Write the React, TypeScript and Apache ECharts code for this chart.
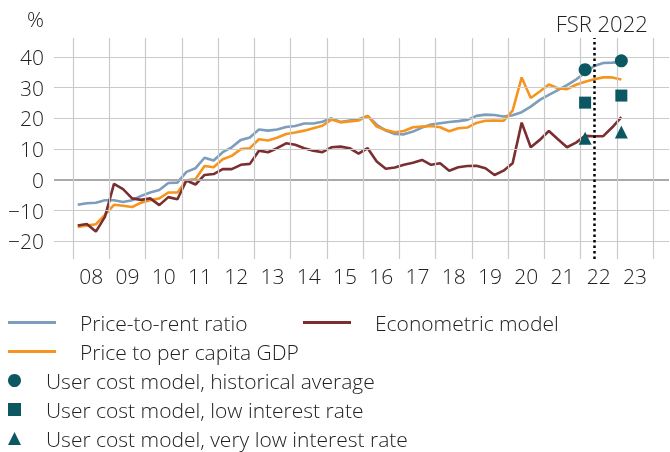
import React, { useEffect, useRef } from "react";
import * as echarts from "echarts";

// Quarterly observations 2008Q1 – 2023Q1
const quarters: string[] = [];
for (let y = 2008; y <= 2023; y++) {
  for (let q = 1; q <= 4; q++) {
    if (y === 2023 && q > 1) break;
    quarters.push(`${y}Q${q}`);
  }
}

const priceToRent = [
  -8.1, -7.6, -7.4, -6.6, -6.6, -7.2, -6.6, -5.2, -4.1, -3.3,
  -1.0, -0.9, 2.6, 3.8, 7.2, 6.3, 9.0, 10.6, 13.0, 13.8,
  16.4, 16.0, 16.4, 17.2, 17.5, 18.3, 18.3, 18.9, 20.0, 18.8,
  19.3, 19.7, 20.8, 17.9, 16.0, 14.9, 14.8, 15.7, 17.0, 18.0,
  18.4, 18.8, 19.1, 19.5, 20.8, 21.2, 21.1, 20.6, 21.0, 22.0,
  23.8, 26.0, 27.6, 29.2, 30.8, 32.6, 34.8, 37.0, 38.0, 38.1,
  38.3,
];

const priceToGdp = [
  -15.3, -14.8, -14.4, -11.4, -8.1, -8.4, -8.8, -7.4, -6.6, -6.0,
  -4.1, -4.1, -0.1, 0.3, 4.5, 4.1, 6.7, 7.8, 10.0, 10.3,
  13.2, 12.8, 13.7, 14.9, 15.4, 16.0, 16.8, 17.6, 19.6, 18.7,
  19.0, 19.3, 20.8, 17.3, 16.2, 15.5, 15.9, 17.1, 17.3, 17.5,
  17.1, 15.8, 16.8, 17.0, 18.5, 19.2, 19.3, 19.2, 22.5, 33.3,
  26.6, 28.7, 31.0, 29.8, 29.5, 30.9, 31.9, 32.7, 33.3, 33.3,
  32.6,
];

const econometric = [
  -14.8, -14.3, -16.8, -12.0, -1.3, -3.0, -6.0, -6.5, -6.0, -8.2,
  -5.6, -6.3, -0.2, -1.5, 1.6, 1.9, 3.5, 3.5, 4.9, 5.2,
  9.5, 9.0, 10.3, 11.9, 11.4, 10.3, 9.5, 9.0, 10.6, 10.8,
  10.3, 8.5, 10.3, 6.0, 3.6, 4.0, 4.9, 5.6, 6.5, 4.9,
  5.4, 3.0, 4.1, 4.5, 4.6, 3.8, 1.6, 3.0, 5.4, 18.6,
  10.6, 13.0, 15.9, 13.2, 10.6, 12.1, 14.3, 14.2, 14.2, 17.1,
  20.4,
];

const markerQuarters = ["2022Q1", "2023Q1"];
const userCostHistAvg = [35.8, 38.7];
const userCostLowRate = [25.1, 27.4];
const userCostVeryLowRate = [13.5, 15.6];

const yTicks = [-20, -10, 0, 10, 20, 30, 40];
const years = [2008, 2009, 2010, 2011, 2012, 2013, 2014, 2015, 2016, 2017, 2018, 2019, 2020, 2021, 2022, 2023];
const yearBounds = [...years, 2024];
const fsrDate = 2022.39;
const fsrLabel = "FSR 2022";

const names = {
  rent: "Price-to-rent ratio",
  econ: "Econometric model",
  gdp: "Price to per capita GDP",
  hist: "User cost model, historical average",
  low: "User cost model, low interest rate",
  vlow: "User cost model, very low interest rate",
};

const colors = {
  rent: "#7c9dbb",
  gdp: "#f7941d",
  econ: "#7a2e2f",
  marker: "#0c5862",
  grid: "#cacaca",
  zero: "#a9a9a9",
  text: "#222222",
};

const toX = (q: string) => {
  const y = Number(q.slice(0, 4));
  const n = Number(q.slice(5));
  return y + (n - 0.5) / 4;
};

const pair = (vals: number[]) => quarters.map((q, i) => [toX(q), vals[i]]);
const markerPair = (vals: number[]) => markerQuarters.map((q, i) => [toX(q), vals[i]]);

const FONT = "Open Sans";
const WEIGHT = 300;
const AXIS_FONT = 21;

export default function App() {
  const ref = useRef<HTMLDivElement>(null);

  useEffect(() => {
    if (!ref.current) return;
    const chart = echarts.init(ref.current, null, { renderer: "svg" });

    const gridLines = [
      ...yTicks.map((v) => ({
        yAxis: v,
        lineStyle: { color: v === 0 ? colors.zero : colors.grid, width: v === 0 ? 2.2 : 1.2, type: "solid" },
      })),
      ...yearBounds.map((v) => ({
        xAxis: v,
        lineStyle: { color: colors.grid, width: 1.2, type: "solid" },
      })),
    ];

    const legendText = { fontSize: 21, color: colors.text, fontFamily: FONT, fontWeight: WEIGHT };
    const lineLegend = {
      padding: 0, itemWidth: 48, itemHeight: 3, icon: "rect", selectedMode: false,
      textStyle: { ...legendText, padding: [0, 0, 0, 19] },
    };

    chart.setOption({
      animation: false,
      textStyle: { fontFamily: FONT },
      grid: { left: 54, right: 1, top: 38, height: 221, containLabel: false },
      xAxis: {
        type: "value",
        min: 2007.47,
        max: 2024.44,
        axisLine: { show: false },
        axisTick: { show: false },
        splitLine: { show: false },
        axisLabel: {
          customValues: years.map((y) => y + 0.5),
          formatter: (v: number) => String(Math.floor(v)).slice(2),
          fontSize: AXIS_FONT,
          color: colors.text,
          fontFamily: FONT,
          fontWeight: WEIGHT,
          margin: 6,
        },
      },
      yAxis: {
        type: "value",
        min: -25.7,
        max: 46.1,
        axisLine: { show: false },
        axisTick: { show: false },
        splitLine: { show: false },
        axisLabel: {
          customValues: yTicks,
          formatter: (v: number) => String(v).replace("-", "\u2212"),
          fontSize: AXIS_FONT,
          color: colors.text,
          fontFamily: FONT,
          fontWeight: WEIGHT,
          margin: 10,
        },
      },
      graphic: [
        {
          type: "text",
          right: 670 - 44,
          top: 8,
          style: { text: "%", fontSize: AXIS_FONT, fill: colors.text, fontFamily: FONT, fontWeight: WEIGHT },
        },
      ],
      legend: [
        { ...lineLegend, left: 8, top: 312, data: [names.rent] },
        { ...lineLegend, left: 303, top: 312, data: [names.econ] },
        { ...lineLegend, left: 8, top: 341, data: [names.gdp] },
        {
          left: 8, top: 370, padding: 0, orient: "vertical", itemGap: 8, itemWidth: 13, itemHeight: 13, selectedMode: false,
          data: [names.hist, names.low, names.vlow], textStyle: { ...legendText, padding: [0, 0, 0, 20] },
        },
      ],
      series: [
        {
          type: "line",
          name: "grid",
          data: [],
          z: 0,
          silent: true,
          markLine: { silent: true, symbol: "none", label: { show: false }, data: gridLines },
        },
        {
          type: "line", name: names.rent, data: pair(priceToRent), symbol: "none", z: 3,
          lineStyle: { color: colors.rent, width: 2.6 }, itemStyle: { color: colors.rent },
        },
        {
          type: "line", name: names.gdp, data: pair(priceToGdp), symbol: "none", z: 3,
          lineStyle: { color: colors.gdp, width: 2.6 }, itemStyle: { color: colors.gdp },
        },
        {
          type: "line", name: names.econ, data: pair(econometric), symbol: "none", z: 3,
          lineStyle: { color: colors.econ, width: 2.6 }, itemStyle: { color: colors.econ },
        },
        {
          type: "scatter", name: names.hist, data: markerPair(userCostHistAvg), symbol: "circle", symbolSize: 13, z: 5,
          itemStyle: { color: colors.marker, opacity: 1 },
        },
        {
          type: "scatter", name: names.low, data: markerPair(userCostLowRate), symbol: "rect", symbolSize: 12, z: 5,
          itemStyle: { color: colors.marker, opacity: 1 },
        },
        {
          type: "scatter", name: names.vlow, data: markerPair(userCostVeryLowRate), symbol: "triangle", symbolSize: 13, z: 5,
          itemStyle: { color: colors.marker, opacity: 1 },
        },
        {
          type: "line",
          name: "fsr",
          data: [],
          z: 10,
          silent: true,
          markLine: {
            silent: true,
            symbol: "none",
            data: [
              {
                xAxis: fsrDate,
                lineStyle: { color: "#000", width: 2.5, type: [2.5, 3] },
                label: {
                  show: true,
                  position: "end",
                  formatter: fsrLabel,
                  fontSize: 22,
                  color: colors.text,
                  fontFamily: FONT,
                  fontWeight: WEIGHT,
                  distance: 4,
                  offset: [7, 0],
                },
              },
            ],
          },
        },
      ],
    });

    return () => chart.dispose();
  }, []);

  return <div ref={ref} style={{ position: "fixed", left: 0, top: 0, width: 670, height: 452 }} />;
}
